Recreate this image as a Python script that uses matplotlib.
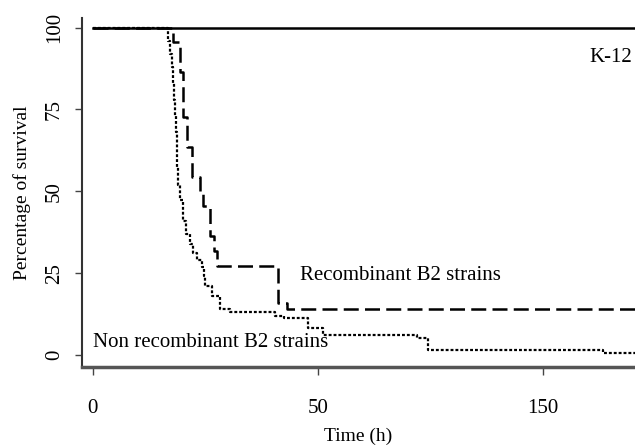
import numpy as np
import matplotlib
matplotlib.use("Agg")
import matplotlib.pyplot as plt

# survival curves (time in h, % survival)
k12_time = [0, 191]
k12_surv = [100, 100]

rec_time = [0, 17.9, 19.3, 20.0, 21.0, 22.1, 23.8, 24.5, 26.0, 26.9, 27.6, 41.1, 43.1, 191]
rec_surv = [100, 95.5, 86.4, 72.7, 63.6, 54.5, 50.0, 45.5, 36.4, 31.8, 27.3, 16.0, 14.0, 14.0]

nonrec_time = [0, 16.7, 17.2, 17.6, 17.8, 18.0, 18.2, 18.4, 18.6, 18.8, 19.0, 19.3,
               20.0, 20.8, 21.6, 22.2, 23.2, 24.2, 24.6, 24.9, 26.4, 28.2, 30.4,
               40.4, 42.5, 47.8, 52.2, 94.0, 98.9, 176.7, 191]
nonrec_surv = [100, 96, 92, 88, 83, 78, 73, 68, 63, 57.5, 52, 47.4,
               41, 37, 34, 31, 29, 27, 24, 21, 18, 14, 13,
               12, 11.3, 8.3, 6.1, 5.2, 1.5, 0.6, 0.6]

x_ticks = [0, 50, 150]
y_ticks = [0, 25, 50, 75, 100]


# x axis is compressed by half after 50 h
def fwd(x):
    x = np.asarray(x, dtype=float)
    return np.where(x <= 50, x, 50 + (x - 50) * 0.5)


def inv(y):
    y = np.asarray(y, dtype=float)
    return np.where(y <= 50, y, 50 + (y - 50) * 2.0)


plt.rcParams["font.family"] = ["Liberation Serif", "DejaVu Serif"]

fig = plt.figure(figsize=(6.35, 4.46), dpi=100)
ax = fig.add_axes([0.129, 0.177, 0.871, 0.783])
ax.set_xscale("function", functions=(fwd, inv))

ax.step(k12_time, k12_surv, where="post", color="black", lw=1.8)
ax.step(rec_time, rec_surv, where="post", color="black", lw=1.8,
        linestyle=(0, (6, 2.5)))
ax.step(nonrec_time, nonrec_surv, where="post", color="black", lw=1.6,
        linestyle=(0, (1.3, 0.9)))

ax.text(180, 91, "K-12", fontsize=15, ha="center", va="center")
ax.text(46, 24.2, "Recombinant B2 strains", fontsize=15, ha="left", va="center")
ax.text(0, 3.7, "Non recombinant B2 strains", fontsize=15, ha="left", va="center")

ax.set_xlim(-2.44, 191)
ax.set_ylim(-3.7, 103)
ax.set_xticks(x_ticks)
ax.set_xticklabels([str(t) for t in x_ticks])
ax.set_yticks(y_ticks)
ax.set_yticklabels([str(t) for t in y_ticks], rotation=90, va="center")

ax.tick_params(axis="x", length=6, width=1, color="#444444", pad=17, labelsize=15)
ax.tick_params(axis="y", length=5, width=1, color="#444444", pad=8, labelsize=15)

ax.set_xlabel("Time (h)", fontsize=14, labelpad=7)
ax.set_ylabel("Percentage of survival", fontsize=14, labelpad=10)

for s in ["top", "right"]:
    ax.spines[s].set_visible(False)
ax.spines["left"].set_linewidth(1.5)
ax.spines["left"].set_color("#333333")
ax.spines["bottom"].set_linewidth(2.5)
ax.spines["bottom"].set_color("#555555")

fig.savefig("out.png", dpi=100)
